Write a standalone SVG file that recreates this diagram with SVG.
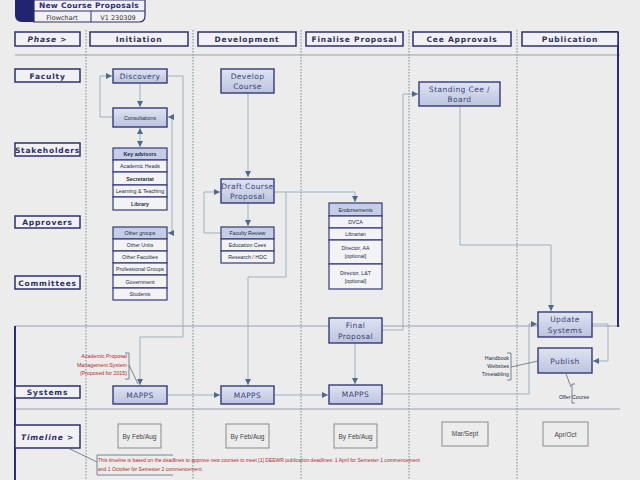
<svg xmlns="http://www.w3.org/2000/svg" width="640" height="480" viewBox="0 0 640 480">
<defs>
<linearGradient id="nodeGrad" x1="0" y1="0" x2="0" y2="1">
<stop offset="0" stop-color="#dfe3f2"/>
<stop offset="1" stop-color="#bcc4de"/>
</linearGradient>
<marker id="arr" viewBox="0 0 6 6" refX="6" refY="3" markerWidth="6" markerHeight="6" markerUnits="userSpaceOnUse" orient="auto-start-reverse">
<path d="M0,0 L6,3 L0,6 z" fill="#4b6a8c"/>
</marker>
<style>
.dash{stroke:#6f8c9c;stroke-width:1;stroke-dasharray:1.5 1.5;fill:none}
.hline{stroke:#9aa0ac;stroke-width:1.2;fill:none}
.navy{stroke:#2b2d78;stroke-width:2;fill:none}
.lane{fill:#f1f1f5;stroke:#2e3068;stroke-width:1.5}
.lbl{font-family:"DejaVu Sans",sans-serif;font-weight:bold;font-size:7.5px;fill:#2e2f5e;letter-spacing:0.8px;text-anchor:middle}
.node{fill:url(#nodeGrad);stroke:#353a78;stroke-width:1.4}
.ntx{font-family:"DejaVu Sans",sans-serif;font-size:7.5px;fill:#3a4474;letter-spacing:0.4px;text-anchor:middle}
.row{fill:#f3f3f6;stroke:#353a78;stroke-width:1.2}
.rowh{fill:#c6cde6;stroke:#353a78;stroke-width:1.2}
.stx{font-family:"Liberation Sans",sans-serif;font-size:5.3px;fill:#222a44;text-anchor:middle}
.sb{font-weight:bold}
.conn{stroke:#9fb0bf;stroke-width:1;fill:none}
.tl{fill:#ececec;stroke:#8a8a8a;stroke-width:1}
.ttx{font-family:"Liberation Sans",sans-serif;font-size:6.5px;fill:#444;text-anchor:middle}
.red{font-family:"Liberation Sans",sans-serif;font-size:5.3px;fill:#b02a2a}
.ann{stroke:#5a6a7a;stroke-width:0.8;fill:none}
.atx{font-family:"Liberation Sans",sans-serif;font-size:5.3px;fill:#222a44;text-anchor:end}
</style>
</defs>
<rect x="0" y="0" width="640" height="480" fill="#ececec"/>

<!-- grid -->
<g id="grid">
<line class="dash" x1="86" y1="30" x2="86" y2="480"/>
<line class="dash" x1="193" y1="30" x2="193" y2="480"/>
<line class="dash" x1="301" y1="30" x2="301" y2="480"/>
<line class="dash" x1="409" y1="30" x2="409" y2="480"/>
<line class="dash" x1="517" y1="30" x2="517" y2="480"/>
<line class="hline" x1="15" y1="55" x2="620" y2="55"/>
<line class="hline" x1="15" y1="326" x2="620" y2="326" stroke="#b4b8c2"/>
<line class="hline" x1="15" y1="409" x2="620" y2="409" stroke="#5a5f88"/>
<line class="navy" x1="15" y1="326" x2="15" y2="480"/>
<line class="navy" x1="600" y1="32" x2="618" y2="32"/>
<line class="navy" x1="618" y1="32" x2="618" y2="327"/>
</g>

<!-- title block -->
<g id="title">
<path d="M15,0 H34 V22 H22 Q15,22 15,15 z" fill="#23246e"/>
<path d="M34,0 H145 V16 Q145,22 139,22 H34 z" fill="#f1f1f5" stroke="#2e3068" stroke-width="1.2"/>
<line x1="34" y1="11" x2="145" y2="11" stroke="#2e3068" stroke-width="1"/>
<line x1="91" y1="11" x2="91" y2="22" stroke="#2e3068" stroke-width="1"/>
<text x="89" y="8" font-family="DejaVu Sans,sans-serif" font-weight="bold" font-size="7.5" fill="#2e2f6e" text-anchor="middle" letter-spacing="0.3">New Course Proposals</text>
<text x="62" y="19.5" font-family="DejaVu Sans,sans-serif" font-size="6.5" fill="#333" text-anchor="middle">Flowchart</text>
<text x="118" y="19.5" font-family="DejaVu Sans,sans-serif" font-size="6.5" fill="#333" text-anchor="middle">V1 230309</text>
</g>

<!-- phase headers -->
<g id="phase-label"><rect class="lane" x="15" y="32" width="65" height="14"/><text class="lbl" x="47.5" y="42" font-style="italic">Phase &gt;</text></g>
<g id="phase-initiation"><rect class="lane" x="90" y="32" width="98" height="14"/><text class="lbl" x="139" y="42">Initiation</text></g>
<g id="phase-development"><rect class="lane" x="198" y="32" width="98" height="14"/><text class="lbl" x="247" y="42">Development</text></g>
<g id="phase-finalise"><rect class="lane" x="306" y="32" width="97" height="14"/><text class="lbl" x="354.5" y="42">Finalise Proposal</text></g>
<g id="phase-cee"><rect class="lane" x="413" y="32" width="98" height="14"/><text class="lbl" x="462" y="42">Cee Approvals</text></g>
<g id="phase-publication"><rect class="lane" x="522" y="32" width="96" height="14"/><text class="lbl" x="570" y="42">Publication</text></g>

<!-- lane labels -->
<g id="lane-faculty"><rect class="lane" x="15" y="69" width="65" height="13"/><text class="lbl" x="47.5" y="78.5">Faculty</text></g>
<g id="lane-stakeholders"><rect class="lane" x="15" y="143" width="65" height="13"/><text class="lbl" x="47.5" y="152.5">Stakeholders</text></g>
<g id="lane-approvers"><rect class="lane" x="15" y="216" width="65" height="12"/><text class="lbl" x="47.5" y="225">Approvers</text></g>
<g id="lane-committees"><rect class="lane" x="15" y="276" width="65" height="13"/><text class="lbl" x="47.5" y="285.5">Committees</text></g>
<g id="lane-systems"><rect class="lane" x="15" y="386" width="65" height="12"/><text class="lbl" x="47.5" y="395">Systems</text></g>
<g id="lane-timeline"><rect class="lane" x="15" y="425" width="65" height="23"/><text class="lbl" x="47.5" y="439.5" font-style="italic">Timeline &gt;</text></g>

<!-- connectors -->
<g id="connectors">
<path class="conn" d="M140,83 V107" marker-end="url(#arr)"/>
<path class="conn" d="M113,117 H100 V76 H112" marker-end="url(#arr)"/>
<path class="conn" d="M140,128 V147" marker-start="url(#arr)" marker-end="url(#arr)"/>
<path class="conn" d="M168,233 H172 V117 H168" marker-start="url(#arr)" marker-end="url(#arr)"/>
<path class="conn" d="M167,76 H183 V337 H140 V385" marker-end="url(#arr)"/>
<path class="conn" d="M248,93 V177" marker-end="url(#arr)"/>
<path class="conn" d="M248,203 V226" marker-end="url(#arr)"/>
<path class="conn" d="M221,233 H204 V192 H220" marker-end="url(#arr)"/>
<path class="conn" d="M274,192 H355 V202" marker-end="url(#arr)"/>
<path class="conn" d="M286,192 V277 H248 V385" marker-end="url(#arr)"/>
<path class="conn" d="M167,395 H220" marker-end="url(#arr)"/>
<path class="conn" d="M274,395 H328" marker-end="url(#arr)"/>
<path class="conn" d="M355,343 V384" marker-end="url(#arr)"/>
<path class="conn" d="M382,330 H403 V94 H418" marker-end="url(#arr)"/>
<path class="conn" d="M382,394 H529 V324 H537" marker-end="url(#arr)"/>
<path class="conn" d="M460,107 V245 H551 V311" marker-end="url(#arr)"/>
<path class="conn" d="M592,324 H608 V361 H593" marker-end="url(#arr)"/>
</g>

<!-- Initiation -->
<g id="discovery"><rect class="node" x="113" y="69" width="54" height="14"/><text class="ntx" x="140" y="79">Discovery</text></g>
<g id="consultations"><rect class="node" x="113" y="108" width="54" height="19"/><text class="stx" x="140" y="119.5">Consultations</text></g>
<g id="key-advisors">
<rect class="rowh" x="113" y="148" width="54" height="12"/><text class="stx sb" x="140" y="156">Key advisors</text>
<rect class="row" x="113" y="160" width="54" height="12"/><text class="stx" x="140" y="168" fill="#8a8a9a">Academic Heads</text>
<rect class="row" x="113" y="172" width="54" height="13"/><text class="stx sb" x="140" y="180.5">Secretariat</text>
<rect class="row" x="113" y="185" width="54" height="12"/><text class="stx" x="140" y="193">Learning &amp; Teaching</text>
<rect class="row" x="113" y="197" width="54" height="13"/><text class="stx sb" x="140" y="205.5">Library</text>
</g>
<g id="other-groups">
<rect class="rowh" x="113" y="227" width="54" height="12"/><text class="stx" x="140" y="235">Other groups</text>
<rect class="row" x="113" y="239" width="54" height="12"/><text class="stx" x="140" y="247">Other Units</text>
<rect class="row" x="113" y="251" width="54" height="12"/><text class="stx" x="140" y="259">Other Faculties</text>
<rect class="row" x="113" y="263" width="54" height="12"/><text class="stx" x="140" y="271">Professional Groups</text>
<rect class="row" x="113" y="275" width="54" height="13"/><text class="stx" x="140" y="283.5">Government</text>
<rect class="row" x="113" y="288" width="54" height="12"/><text class="stx" x="140" y="296">Students</text>
</g>
<g id="mapps-1"><rect class="node" x="113" y="386" width="54" height="18"/><text class="ntx" x="140" y="397.5">MAPPS</text></g>
<g id="apms-note">
<text class="red" x="127" y="358" text-anchor="end">Academic Proposal</text>
<text class="red" x="127" y="366.5" text-anchor="end">Management System</text>
<text class="red" x="127" y="375" text-anchor="end">(Proposed for 2015)</text>
<path class="ann" d="M125,353 H129 V379 H125 M129,365 L138,384"/>
</g>

<!-- Development -->
<g id="develop-course"><rect class="node" x="221" y="69" width="53" height="24"/><text class="ntx" x="247.5" y="79">Develop</text><text class="ntx" x="247.5" y="89">Course</text></g>
<g id="draft-course-proposal"><rect class="node" x="221" y="179" width="53" height="24"/><text class="ntx" x="247.5" y="189" font-size="7" letter-spacing="0.2">Draft Course</text><text class="ntx" x="247.5" y="199" font-size="7" letter-spacing="0.2">Proposal</text></g>
<g id="faculty-review">
<rect class="rowh" x="221" y="227" width="53" height="12"/><text class="stx" x="247.5" y="235">Faculty Review</text>
<rect class="row" x="221" y="239" width="53" height="12"/><text class="stx" x="247.5" y="247">Education Cees</text>
<rect class="row" x="221" y="251" width="53" height="12"/><text class="stx" x="247.5" y="259">Research / HDC</text>
</g>
<g id="mapps-2"><rect class="node" x="221" y="386" width="53" height="18"/><text class="ntx" x="247.5" y="397.5">MAPPS</text></g>

<!-- Finalise -->
<g id="endorsements">
<rect class="rowh" x="329" y="203" width="53" height="13"/><text class="stx" x="355.5" y="211.5">Endorsements</text>
<rect class="row" x="329" y="216" width="53" height="12"/><text class="stx" x="355.5" y="224" fill="#9a9aa8">DVCA</text>
<rect class="row" x="329" y="228" width="53" height="12"/><text class="stx" x="355.5" y="236">Librarian</text>
<rect class="row" x="329" y="240" width="53" height="24"/><text class="stx" x="355.5" y="250">Director, AA</text><text class="stx" x="355.5" y="258">[optional]</text>
<rect class="row" x="329" y="264" width="53" height="25"/><text class="stx" x="355.5" y="274.5">Director, L&amp;T</text><text class="stx" x="355.5" y="282.5">[optional]</text>
</g>
<g id="final-proposal"><rect class="node" x="329" y="318" width="53" height="25"/><text class="ntx" x="355.5" y="328">Final</text><text class="ntx" x="355.5" y="338.5">Proposal</text></g>
<g id="mapps-3"><rect class="node" x="329" y="385" width="53" height="19"/><text class="ntx" x="355.5" y="397">MAPPS</text></g>

<!-- Cee Approvals -->
<g id="standing-cee"><rect class="node" x="419" y="82" width="81" height="24"/><text class="ntx" x="459.5" y="92">Standing Cee  /</text><text class="ntx" x="459.5" y="102">Board</text></g>

<!-- Publication -->
<g id="update-systems"><rect class="node" x="538" y="312" width="54" height="25"/><text class="ntx" x="565" y="322">Update</text><text class="ntx" x="565" y="332.5">Systems</text></g>
<g id="publish"><rect class="node" x="538" y="348" width="54" height="25"/><text class="ntx" x="565" y="363.5">Publish</text></g>
<g id="publish-note">
<text class="atx" x="509" y="359.5">Handbook</text>
<text class="atx" x="509" y="367.5">Websites</text>
<text class="atx" x="509" y="375.5">Timetabling</text>
<path class="ann" d="M507,353 H511 V380 H507 M511,367 L538,361"/>
</g>
<g id="offer-course">
<path class="ann" d="M566,374 L571,387 M575,384 H572 V403 H575"/>
<text class="stx" x="574" y="399" text-anchor="start">Offer Course</text>
</g>

<!-- Timeline -->
<g id="tl-1"><rect class="tl" x="118" y="424" width="43" height="24"/><text class="ttx" x="139.5" y="438.5">By Feb/Aug</text></g>
<g id="tl-2"><rect class="tl" x="226" y="424" width="43" height="24"/><text class="ttx" x="247.5" y="438.5">By Feb/Aug</text></g>
<g id="tl-3"><rect class="tl" x="334" y="424" width="43" height="24"/><text class="ttx" x="355.5" y="438.5">By Feb/Aug</text></g>
<g id="tl-4"><rect class="tl" x="442" y="422" width="46" height="24"/><text class="ttx" x="465" y="435.5">Mar/Sept</text></g>
<g id="tl-5"><rect class="tl" x="543" y="422" width="45" height="24"/><text class="ttx" x="565.5" y="437">Apr/Oct</text></g>
<g id="timeline-note">
<path class="ann" d="M68,448 L97,462"/>
<path class="ann" d="M173,455 H97 V475 H173"/>
<text class="red" x="98" y="462" textLength="322" lengthAdjust="spacingAndGlyphs">This timeline is based on the deadlines to approve new courses to meet [1] DEEWR publication deadlines: 1 April for Semester 1 commencement</text>
<text class="red" x="98" y="471" textLength="105" lengthAdjust="spacingAndGlyphs">and 1 October for Semester 2 commencement.</text>
</g>
</svg>
